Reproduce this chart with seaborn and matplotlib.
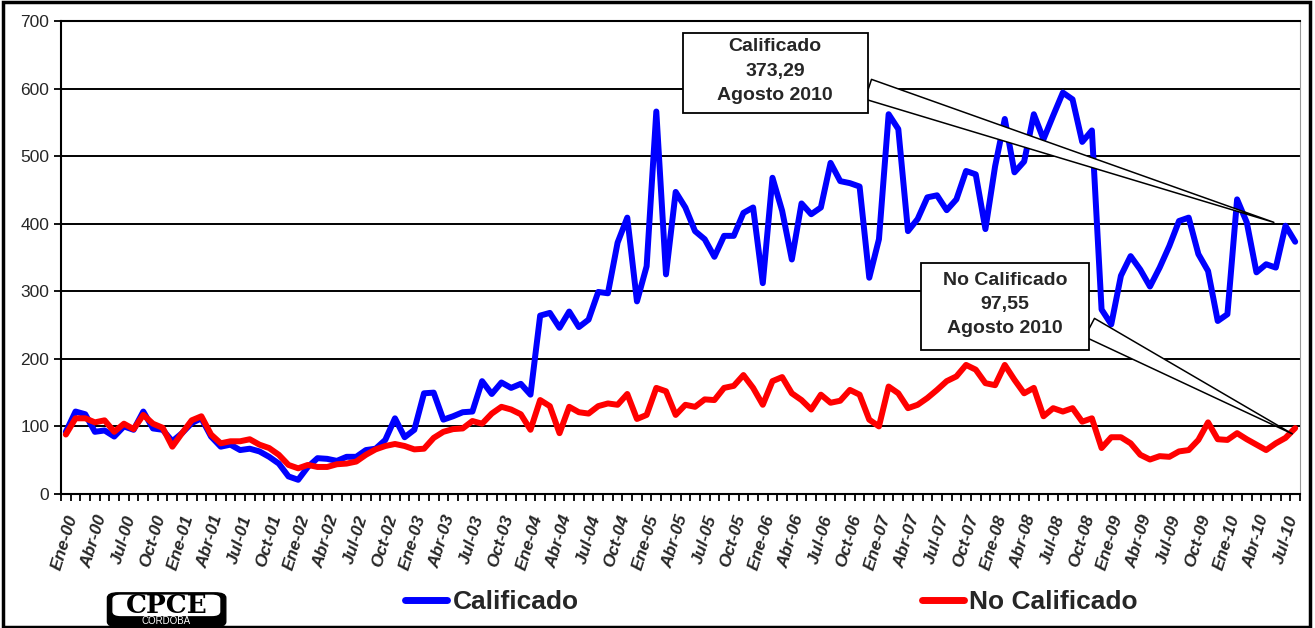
import pandas as pd
import numpy as np
import matplotlib.pyplot as plt
import matplotlib.patches as mpatches
import seaborn as sns

# Serie mensual Ene-00 .. Ago-10
meses = ['Ene', 'Feb', 'Mar', 'Abr', 'May', 'Jun', 'Jul', 'Ago', 'Sep', 'Oct', 'Nov', 'Dic']
periodos = [f"{m}-{a:02d}" for a in range(0, 11) for m in meses][:128]

calificado = [
    92, 122, 118, 92, 94, 85, 100, 95, 122, 97, 95, 78,
    90, 105, 112, 85, 70, 73, 65, 67, 63, 55, 45, 26,
    21, 40, 53, 52, 49, 55, 55, 65, 67, 80, 112, 84,
    95, 149, 150, 110, 115, 121, 122, 167, 148, 165, 157, 163,
    147, 264, 268, 246, 270, 247, 258, 299, 297, 372, 409, 285,
    337, 566, 325, 447, 424, 389, 377, 351, 382, 382, 416, 424,
    312, 468, 419, 347, 430, 414, 424, 490, 463, 460, 455, 320,
    377, 562, 540, 389, 407, 439, 442, 420, 436, 478, 473, 392,
    485, 555, 476, 492, 562, 525, 560, 594, 584, 521, 538, 273,
    251, 323, 352, 332, 307, 335, 367, 404, 409, 355, 330, 256,
    266, 436, 402, 328, 340, 335, 397, 373.29,
]
no_calificado = [
    88, 112, 112, 106, 109, 92, 104, 96, 117, 104, 98, 70,
    90, 109, 115, 88, 75, 78, 78, 81, 73, 68, 58, 43,
    38, 43, 40, 40, 44, 45, 48, 58, 66, 71, 74, 71,
    66, 67, 83, 92, 96, 97, 108, 104, 119, 129, 125, 118,
    95, 139, 130, 90, 129, 121, 119, 130, 134, 132, 148, 111,
    117, 157, 152, 117, 132, 129, 140, 139, 157, 160, 176, 157,
    132, 167, 173, 149, 139, 125, 147, 135, 138, 154, 147, 110,
    100, 159, 149, 127, 132, 142, 154, 167, 174, 191, 184, 164,
    161, 191, 169, 149, 157, 115, 127, 122, 127, 107, 112, 68,
    84, 84, 75, 58, 51, 56, 55, 63, 65, 80, 106, 81,
    80, 90, 81, 73, 65, 75, 83, 97.55,
]

df = pd.DataFrame({'periodo': range(len(periodos)),
                   'Calificado': calificado,
                   'No Calificado': no_calificado})
df = df.melt(id_vars='periodo', var_name='serie', value_name='valor')

sns.set_style('white')
plt.rcParams['font.family'] = ['Liberation Sans', 'DejaVu Sans']

fig = plt.figure(figsize=(13.15, 6.28), dpi=100)
ax = fig.add_axes([0.0464, 0.2134, 0.9422, 0.7532])

sns.lineplot(data=df, x='periodo', y='valor', hue='serie',
             palette={'Calificado': '#0000ff', 'No Calificado': '#ff0000'},
             linewidth=4.3, ax=ax, legend=False, zorder=3)

ax.set_xlim(-0.5, len(periodos) - 0.5)
ax.set_ylim(0, 700)
ax.set_yticks(range(0, 701, 100))
ax.yaxis.grid(True, color='black', linewidth=1.4)
ax.set_axisbelow(True)
ax.set_xlabel('')
ax.set_ylabel('')

pos = list(range(0, len(periodos), 3))
ax.set_xticks(pos)
ax.set_xticklabels([periodos[i] for i in pos], rotation=73, ha='right', va='top',
                   rotation_mode='anchor', fontsize=12.5, fontweight='bold', style='italic')
ax.set_xticks(np.arange(-0.5, len(periodos), 1), minor=True)
ax.tick_params(axis='x', which='major', length=0, pad=14)
ax.tick_params(axis='x', which='minor', length=5, width=1.3, color='black', bottom=True)
ax.tick_params(axis='y', length=5, width=1.3, color='black', labelsize=12.5, left=True)

for s in ['left', 'bottom', 'top']:
    ax.spines[s].set_color('black')
    ax.spines[s].set_linewidth(1.5)
ax.spines['right'].set_color('#999999')

# cuadros de texto (callouts)
def callout(texto, x0, y0, x1, y1, anclaje, punta):
    rect = mpatches.Rectangle((x0, y0), x1 - x0, y1 - y0, transform=ax.transAxes,
                              facecolor='white', edgecolor='black', linewidth=1.3,
                              zorder=5)
    ax.add_patch(rect)
    ax.annotate('', xy=punta, xycoords='data', xytext=anclaje, textcoords='axes fraction',
                arrowprops=dict(arrowstyle='wedge,tail_width=1.5,shrink_factor=0.5',
                                fc='white', ec='black', lw=1.1, patchA=rect,
                                shrinkA=0, shrinkB=0, mutation_scale=10),
                zorder=4)
    ax.text((x0 + x1) / 2, (y0 + y1) / 2 + 0.004, texto, transform=ax.transAxes,
            ha='center', va='center', fontsize=14, fontweight='bold',
            linespacing=1.55, zorder=6)

callout('Calificado\n373,29\nAgosto 2010', 0.502, 0.8055, 0.651, 0.9746,
        (0.629, 0.875), (124.8, 402))
callout('No Calificado\n97,55\nAgosto 2010', 0.694, 0.3044, 0.8297, 0.4884,
        (0.806, 0.385), (126.7, 89))

# leyenda
handles = [plt.Line2D([], [], color='#0000ff', lw=5),
           plt.Line2D([], [], color='#ff0000', lw=5)]
leg = fig.legend(handles, ['Calificado', 'No Calificado'], loc='center left',
                 bbox_to_anchor=(0.298, 0.041), ncol=2, frameon=False,
                 prop={'size': 19, 'weight': 'bold'}, handlelength=1.6,
                 handletextpad=0.2, columnspacing=13.0, borderpad=0)

# logo
logo = mpatches.FancyBboxPatch((0.0837, 0.004), 0.086, 0.05,
                               boxstyle='round,pad=0.002,rounding_size=0.008',
                               transform=fig.transFigure, facecolor='black',
                               edgecolor='black')
fig.patches.append(logo)
fig.patches.append(mpatches.FancyBboxPatch((0.087, 0.021), 0.079, 0.03,
                                           boxstyle='round,pad=0.001,rounding_size=0.006',
                                           transform=fig.transFigure, facecolor='white',
                                           edgecolor='white'))
fig.text(0.1265, 0.036, 'CPCE', ha='center', va='center', fontsize=19,
         fontweight='bold', family='DejaVu Serif', color='black')
fig.text(0.1265, 0.011, 'CORDOBA', ha='center', va='center', fontsize=7,
         color='white')

# marco exterior
fig.patches.append(mpatches.Rectangle((0.002, 0.002), 0.994, 0.995,
                                      transform=fig.transFigure, fill=False,
                                      edgecolor='black', linewidth=2.5))

fig.savefig('out.png', dpi=100)
